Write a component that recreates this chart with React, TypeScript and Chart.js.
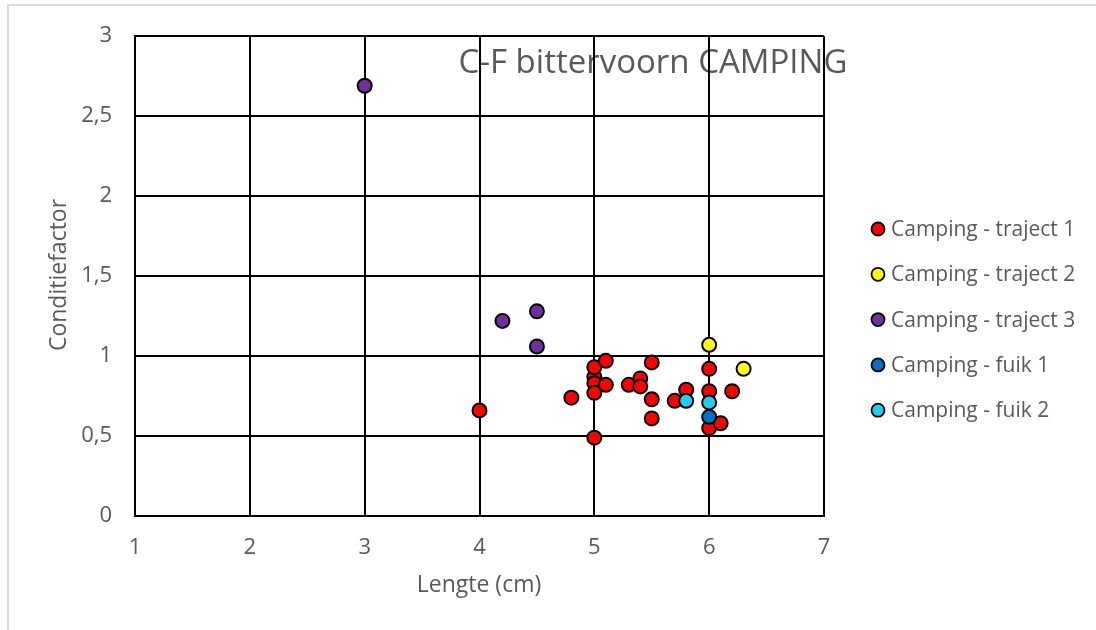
import React, { useEffect, useRef } from "react";
import { Chart, registerables } from "chart.js";

Chart.register(...registerables);

// Lengte (cm) and conditiefactor per vangst
const traject1X = [4, 4.8, 5, 5, 5, 5, 5, 5.1, 5.1, 5.3, 5.4, 5.4, 5.5, 5.5, 5.5, 5.7, 5.8, 6, 6, 6, 6.1, 6.2];
const traject1Y = [0.66, 0.74, 0.49, 0.87, 0.83, 0.93, 0.77, 0.97, 0.82, 0.82, 0.86, 0.81, 0.96, 0.73, 0.61, 0.72, 0.79, 0.92, 0.78, 0.55, 0.58, 0.78];
const traject2X = [6, 6.3];
const traject2Y = [1.07, 0.92];
const traject3X = [3, 4.2, 4.5, 4.5];
const traject3Y = [2.69, 1.22, 1.28, 1.06];
const fuik1X = [6];
const fuik1Y = [0.62];
const fuik2X = [5.8, 6];
const fuik2Y = [0.72, 0.71];

const seriesNames = [
  "Camping - traject 1",
  "Camping - traject 2",
  "Camping - traject 3",
  "Camping - fuik 1",
  "Camping - fuik 2",
];
const seriesColors = ["#FF0000", "#FFFF00", "#7030A0", "#0070C0", "#24CCF0"];
const seriesX = [traject1X, traject2X, traject3X, fuik1X, fuik2X];
const seriesY = [traject1Y, traject2Y, traject3Y, fuik1Y, fuik2Y];

const chartTitle = "C-F bittervoorn CAMPING";
const xTitle = "Lengte (cm)";
const yTitle = "Conditiefactor";

const FONT = "'Open Sans', 'Noto Sans', sans-serif";
const GREY = "#595959";

const W = 1096;
const H = 630;

const decorPlugin = {
  id: "decor",
  beforeDraw(chart: any) {
    const ctx = chart.ctx;
    ctx.save();
    ctx.fillStyle = "#ffffff";
    ctx.fillRect(0, 0, W, H);
    // frame of the chart object
    ctx.strokeStyle = "#d9d9d9";
    ctx.lineWidth = 2;
    ctx.beginPath();
    ctx.moveTo(8, H + 5);
    ctx.lineTo(8, 5);
    ctx.lineTo(W + 5, 5);
    ctx.stroke();
    // overlaid title, the grid is drawn over it
    ctx.fillStyle = GREY;
    ctx.font = `33px ${FONT}`;
    ctx.textAlign = "center";
    ctx.textBaseline = "middle";
    ctx.fillText(chartTitle, 653, 64);
    ctx.restore();
  },
  afterDraw(chart: any) {
    const ctx = chart.ctx;
    ctx.save();
    ctx.fillStyle = GREY;
    ctx.textBaseline = "middle";
    // axis titles
    ctx.font = `23px ${FONT}`;
    ctx.textAlign = "center";
    ctx.fillText(xTitle, 479, 585);
    ctx.save();
    ctx.translate(59, 275);
    ctx.rotate(-Math.PI / 2);
    ctx.fillText(yTitle, 0, 0);
    ctx.restore();
    // legend
    ctx.font = `21px ${FONT}`;
    ctx.textAlign = "left";
    seriesNames.forEach((name, i) => {
      const y = 229 + i * 45.3;
      ctx.beginPath();
      ctx.arc(878, y, 6.5, 0, Math.PI * 2);
      ctx.fillStyle = seriesColors[i];
      ctx.fill();
      ctx.lineWidth = 1.8;
      ctx.strokeStyle = "#000";
      ctx.stroke();
      ctx.fillStyle = GREY;
      ctx.fillText(name, 891, y + 1);
    });
    ctx.restore();
  },
};

export default function App() {
  const ref = useRef<HTMLCanvasElement | null>(null);

  useEffect(() => {
    if (!ref.current) return;
    const datasets = seriesNames.map((name, i) => ({
      label: name,
      data: seriesX[i].map((x, j) => ({ x, y: seriesY[i][j] })),
      backgroundColor: seriesColors[i],
      borderColor: "#000000",
      borderWidth: 2,
      pointRadius: 7,
      order: seriesNames.length - i,
    }));
    const chart = new Chart(ref.current, {
      type: "scatter",
      data: { datasets },
      options: {
        animation: false,
        responsive: false,
        maintainAspectRatio: false,
        devicePixelRatio: 1,
        layout: { padding: { left: 0, top: 35, right: W - 824, bottom: 0 } },
        plugins: {
          legend: { display: false },
          tooltip: { enabled: false },
        },
        scales: {
          x: {
            type: "linear",
            min: 1,
            max: 7,
            afterFit: (s: any) => {
              s.height = H - 516;
            },
            ticks: {
              stepSize: 1,
              color: GREY,
              font: { family: FONT, size: 22 },
              padding: 19,
            },
            grid: { color: "#000", lineWidth: 2, drawTicks: false },
            border: { color: "#000", width: 2 },
          },
          y: {
            type: "linear",
            min: 0,
            max: 3,
            afterFit: (s: any) => {
              s.width = 135;
            },
            ticks: {
              stepSize: 0.5,
              color: GREY,
              font: { family: FONT, size: 22 },
              padding: 23,
              callback: (v: any) => String(v).replace(".", ","),
            },
            grid: { color: "#000", lineWidth: 2, drawTicks: false },
            border: { color: "#000", width: 2 },
          },
        },
      },
      plugins: [decorPlugin],
    });
    return () => chart.destroy();
  }, []);

  return (
    <div style={{ position: "fixed", left: 0, top: 0, width: W, height: H, background: "#fff" }}>
      <canvas ref={ref} width={W} height={H} style={{ width: W, height: H, display: "block" }} />
    </div>
  );
}
